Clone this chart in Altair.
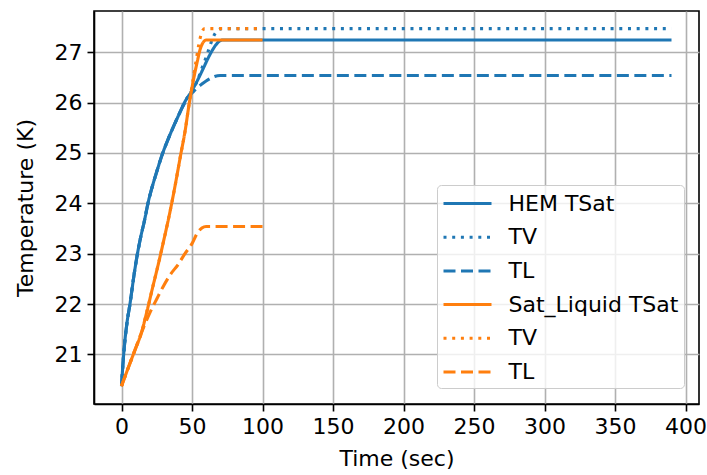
import altair as alt
import pandas as pd

# ---- data ----
hem_t = [0, 1, 2, 4, 6, 9, 11, 14, 16, 19, 22, 25, 29, 33, 36, 40, 45, 50, 54, 58, 61, 64, 67, 70, 72, 390]
hem_tsat = [20.37, 20.8, 21.15, 21.65, 22.0, 22.6, 22.95, 23.38, 23.62, 24.03, 24.35, 24.63, 24.98, 25.27,
            25.47, 25.72, 26.02, 26.24, 26.45, 26.68, 26.86, 27.02, 27.15, 27.23, 27.245, 27.245]

hem_tv_t = [0, 1, 2, 4, 6, 9, 11, 14, 16, 19, 22, 25, 29, 33, 36, 40, 45, 50, 54, 57, 60, 63, 65, 68, 71, 390]
hem_tv = [20.37, 20.8, 21.15, 21.65, 22.0, 22.6, 22.95, 23.38, 23.62, 24.03, 24.35, 24.63, 24.98, 25.27,
          25.47, 25.72, 26.02, 26.24, 26.45, 26.68, 26.9, 27.15, 27.3, 27.43, 27.47, 27.47]

hem_tl_t = [0, 1, 2, 4, 6, 9, 11, 14, 16, 19, 22, 25, 29, 33, 36, 40, 45, 48, 51, 54, 57, 60, 63, 66, 70, 390]
hem_tl = [20.37, 20.8, 21.15, 21.65, 22.0, 22.6, 22.95, 23.38, 23.62, 24.03, 24.35, 24.63, 24.98, 25.27,
          25.47, 25.72, 26.0, 26.13, 26.22, 26.3, 26.37, 26.43, 26.48, 26.52, 26.54, 26.54]

sl_t = [0, 5, 10, 14, 18, 22, 26, 30, 34, 38, 42, 45, 48, 51, 54, 56, 58, 60, 100]
sl_tsat = [20.37, 20.75, 21.12, 21.42, 21.85, 22.32, 22.78, 23.27, 23.78, 24.35, 24.97, 25.42, 25.98,
           26.45, 26.85, 27.08, 27.2, 27.245, 27.245]

sl_tv_t = [0, 5, 10, 14, 18, 22, 26, 30, 34, 38, 42, 45, 48, 51, 53, 55, 57, 59, 100]
sl_tv = [20.37, 20.75, 21.12, 21.42, 21.85, 22.32, 22.78, 23.27, 23.78, 24.35, 24.97, 25.42, 25.98,
         26.5, 26.85, 27.18, 27.4, 27.47, 27.47]

sl_tl_t = [0, 5, 10, 14, 20, 25, 30, 35, 40, 45, 50, 54, 57, 60, 100]
sl_tl = [20.37, 20.75, 21.12, 21.42, 21.82, 22.1, 22.37, 22.6, 22.78, 23.0, 23.2, 23.42, 23.51, 23.54, 23.54]

series_keys = ["HEM TSat", "HEM TV", "HEM TL", "Sat_Liquid TSat", "Sat_Liquid TV", "Sat_Liquid TL"]
series_data = [(hem_t, hem_tsat), (hem_tv_t, hem_tv), (hem_tl_t, hem_tl),
               (sl_t, sl_tsat), (sl_tv_t, sl_tv), (sl_tl_t, sl_tl)]
colors = ["#1f77b4", "#1f77b4", "#1f77b4", "#ff7f0e", "#ff7f0e", "#ff7f0e"]
dashes = [[1, 0], [3, 5.7], [12, 5.5], [1, 0], [3, 5.7], [12, 5.5]]

x_ticks = [0, 50, 100, 150, 200, 250, 300, 350, 400]
y_ticks = [21, 22, 23, 24, 25, 26, 27]

FONT = "DejaVu Sans"
FS = 22
label_expr = ("indexof(datum.label, ' TV') > 0 ? 'TV' : "
              "(indexof(datum.label, ' TL') > 0 ? 'TL' : datum.label)")

color_enc = alt.Color("series:N",
                      scale=alt.Scale(domain=series_keys, range=colors),
                      legend=alt.Legend(title=None, labelExpr=label_expr))
dash_enc = alt.StrokeDash("series:N",
                          scale=alt.Scale(domain=series_keys, range=dashes),
                          legend=alt.Legend(title=None, labelExpr=label_expr))
x_enc = alt.X("t:Q", title="Time (sec)",
              scale=alt.Scale(domain=[-19.5, 409.5], nice=False, zero=False),
              axis=alt.Axis(values=x_ticks, labelFlush=False, titlePadding=11))
y_enc = alt.Y("T:Q", title="Temperature (K)",
              scale=alt.Scale(domain=[20.015, 27.82], nice=False, zero=False),
              axis=alt.Axis(values=y_ticks, labelFlush=False, titlePadding=17))

layers = []
for key, (tt, vv) in zip(series_keys, series_data):
    df = pd.DataFrame({"t": tt, "T": vv, "series": key})
    layers.append(
        alt.Chart(df).mark_line(strokeWidth=3.1, interpolate="monotone").encode(
            x=x_enc, y=y_enc, color=color_enc, strokeDash=dash_enc
        )
    )

chart = alt.layer(*layers).properties(
    width=605, height=393,
    padding={"left": 94, "top": 11, "right": 8, "bottom": 71},
    autosize=alt.AutoSizeParams(type="none"),
    background="white",
).configure_view(
    stroke="black", strokeWidth=1.6
).configure_axis(
    labelFont=FONT, labelFontSize=FS, labelColor="black",
    titleFont=FONT, titleFontSize=FS, titleColor="black", titleFontWeight="normal",
    tickColor="black", tickSize=7, tickWidth=1.6,
    domainColor="black", domainWidth=1.6,
    gridColor="#b0b0b0", gridWidth=1.6,
    labelPadding=5,
).configure_legend(
    orient="none", legendX=343, legendY=174,
    symbolType="M-1,0H3", symbolSize=576, symbolStrokeWidth=3,
    labelFont=FONT, labelFontSize=FS, labelColor="black", labelLimit=400,
    labelOffset=39.5, rowPadding=8.7, padding=5,
    fillColor="rgba(255,255,255,0.8)", strokeColor="#cccccc", cornerRadius=4,
)

chart.save("out.html", embed_options={"renderer": "svg", "actions": False})
